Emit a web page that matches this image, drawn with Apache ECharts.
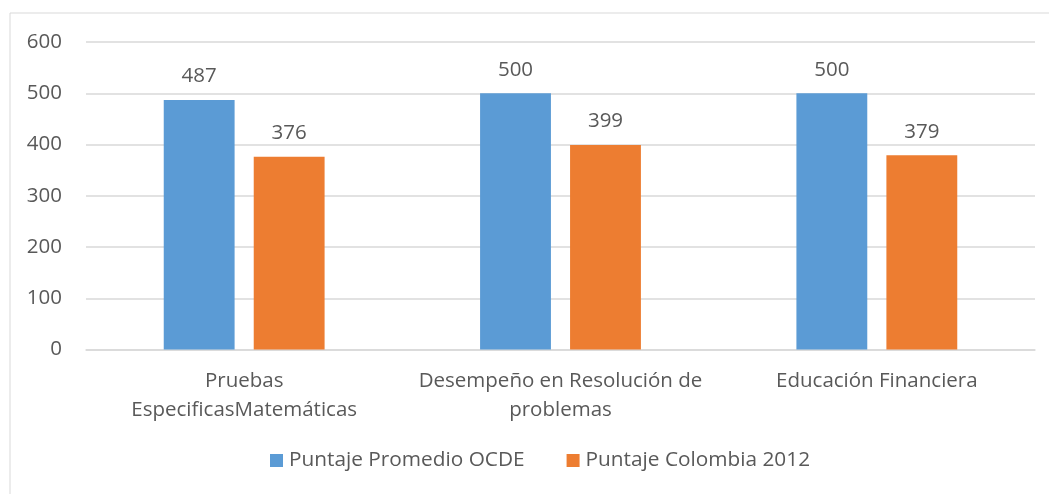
<!DOCTYPE html>
<html>
<head>
<meta charset="utf-8">
<script src="https://cdn.jsdelivr.net/npm/echarts@6/dist/echarts.min.js"></script>
<style>
  html, body { margin: 0; padding: 0; background: #fff; }
  #chart { width: 1049px; height: 494px; }
</style>
</head>
<body>
<div id="chart"></div>
<script>
  const categories = ['Pruebas\nEspecificasMatemáticas', 'Desempeño en Resolución de\nproblemas', 'Educación Financiera'];
  const seriesNames = ['Puntaje Promedio OCDE', 'Puntaje Colombia 2012'];
  const ocde = [487, 500, 500];
  const colombia = [376, 399, 379];

  const textColor = '#595959';
  const font = '"Open Sans", "Noto Sans", sans-serif';
  const fs = 20.5;

  const chart = echarts.init(document.getElementById('chart'));

  function barSeries(name, data, color) {
    return {
      name: name,
      type: 'bar',
      data: data,
      barWidth: '22.4%',
      barGap: '27%',
      itemStyle: { color: color },
      label: {
        show: true,
        position: 'top',
        distance: 13,
        color: textColor,
        fontSize: fs,
        fontFamily: font
      }
    };
  }

  chart.setOption({
    animation: false,
    graphic: [{
      type: 'rect',
      shape: { x: 10, y: 13, width: 1100, height: 600 },
      style: { fill: 'none', stroke: '#D9D9D9', lineWidth: 1 },
      silent: true
    }],
    grid: { left: 86, right: 14, top: 42, bottom: 144.5 },
    legend: {
      bottom: 18,
      left: 265,
      itemWidth: 13,
      itemHeight: 13,
      itemGap: 42,
      icon: 'rect',
      textStyle: { color: textColor, fontSize: 20.8, fontFamily: font, padding: [0, 0, 0, 1] },
      data: seriesNames
    },
    xAxis: {
      type: 'category',
      data: categories,
      axisLine: { lineStyle: { color: '#D9D9D9', width: 1.5 } },
      axisTick: { show: false },
      axisLabel: {
        color: textColor,
        fontSize: fs,
        fontFamily: font,
        lineHeight: 29,
        margin: 17,
        interval: 0
      }
    },
    yAxis: {
      type: 'value',
      min: 0,
      max: 600,
      interval: 100,
      axisLine: { show: false },
      axisTick: { show: false },
      splitLine: { lineStyle: { color: '#D9D9D9', width: 1.5 } },
      axisLabel: { color: textColor, fontSize: fs, fontFamily: font, margin: 24 }
    },
    series: [
      barSeries(seriesNames[0], ocde, '#5B9BD5'),
      barSeries(seriesNames[1], colombia, '#ED7D31')
    ]
  });
</script>
</body>
</html>
